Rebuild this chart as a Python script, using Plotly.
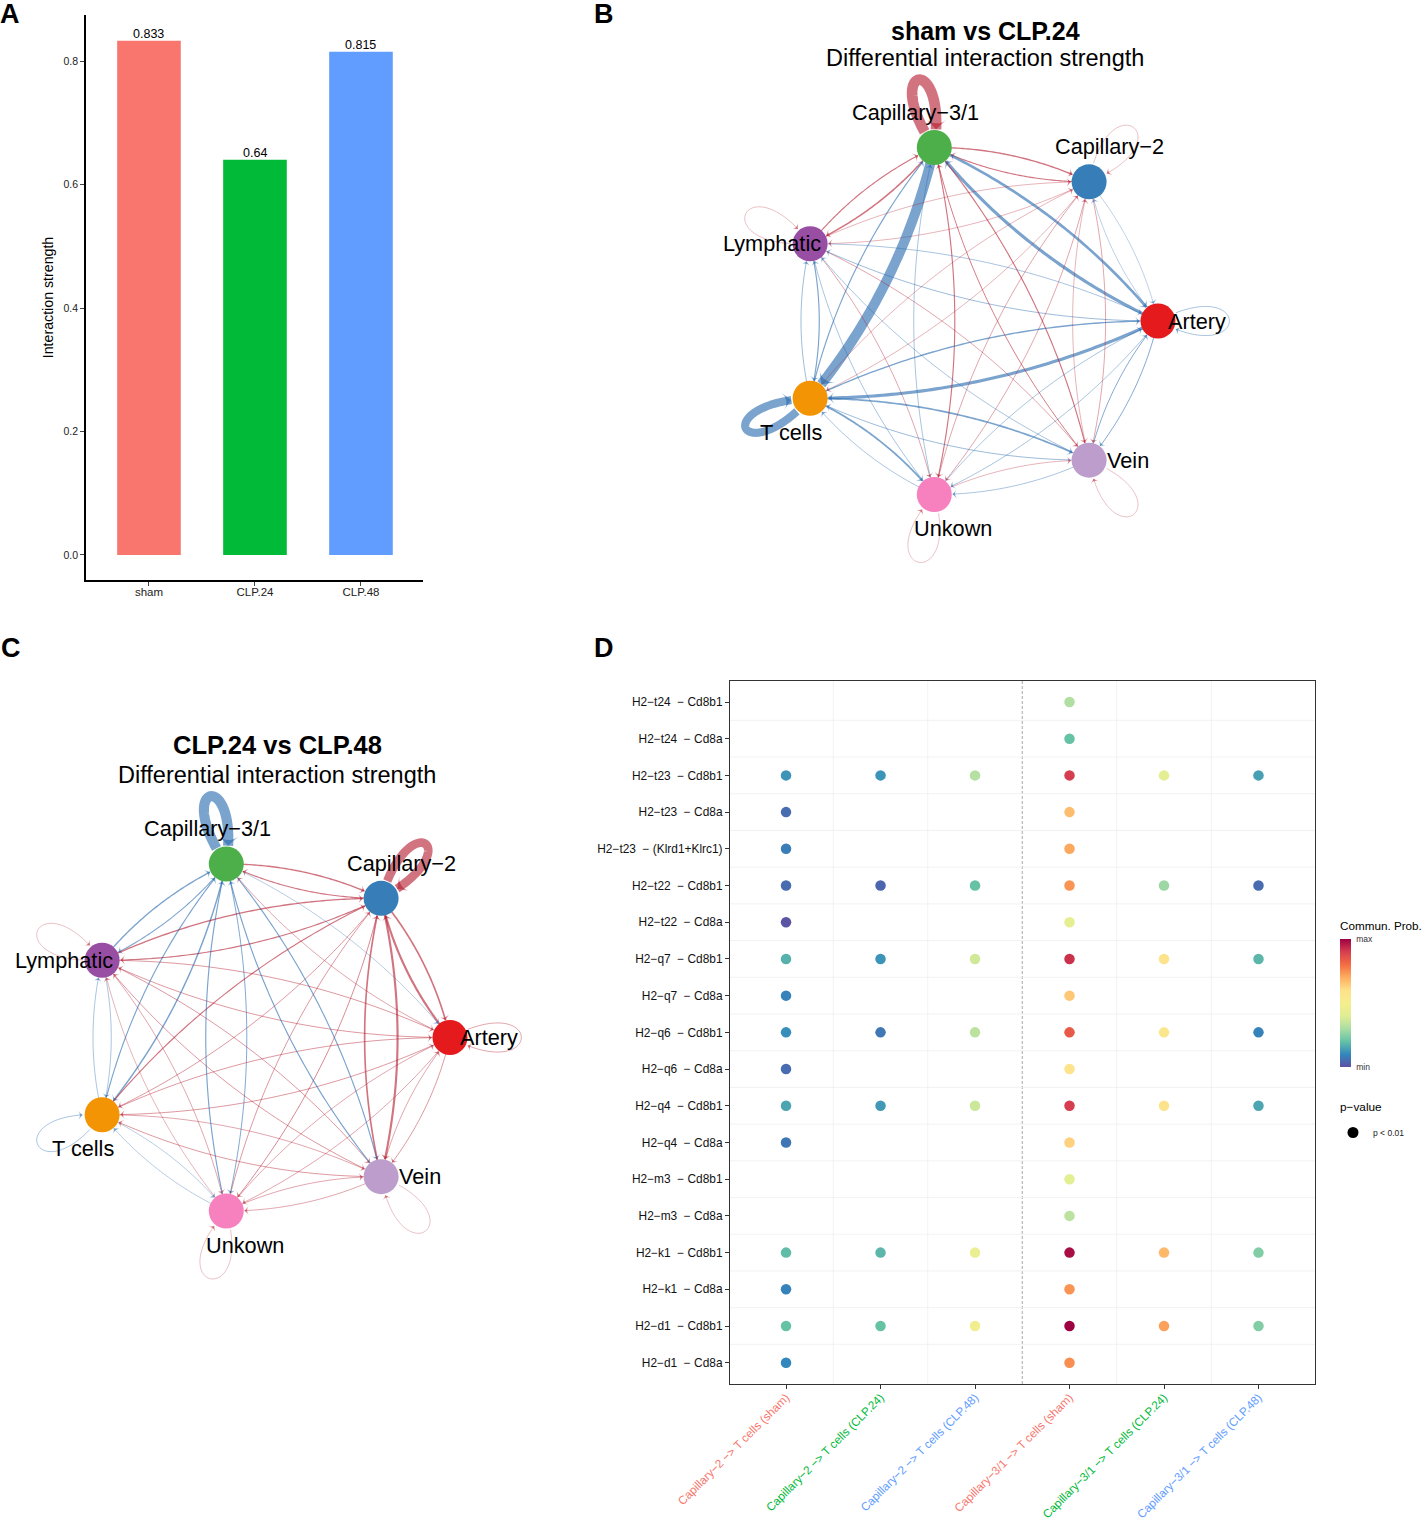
import math
import plotly.graph_objects as go

W, H = 1426, 1526
FONT = "Liberation Sans"

# ---------- Panel A data ----------
conditions = ["sham", "CLP.24", "CLP.48"]
strength = [0.833, 0.64, 0.815]
strength_labels = ["0.833", "0.64", "0.815"]
condition_colors = ["#F8766D", "#00BA38", "#619CFF"]

# ---------- Network data (row = source, col = target; + up / - down) ----------
cells = ["Artery", "Capillary\u22122", "Capillary\u22123/1", "Lymphatic", "T cells", "Unkown", "Vein"]
cell_colors = ["#E41A1C", "#377EB8", "#4DAF4A", "#984EA3", "#F29403", "#F781BF", "#BC9DCC"]

diff_sham_clp24 = [
    [-0.05, -0.035, -0.30, -0.06, -0.30, -0.05, -0.08],
    [-0.035, 0.03, 0.10, 0.04, 0.04, 0.05, 0.05],
    [-0.25, 0.12, 1.05, 0.14, -0.98, 0.10, 0.10],
    [-0.05, 0.04, 0.10, 0.03, -0.10, 0.05, 0.05],
    [-0.12, 0.04, -0.10, -0.06, -0.80, -0.16, -0.15],
    [-0.05, 0.05, -0.05, -0.05, -0.05, 0.03, 0.04],
    [-0.08, 0.04, 0.08, -0.05, -0.06, -0.05, 0.03],
]
diff_clp24_clp48 = [
    [0.05, 0.20, 0.05, 0.06, 0.06, 0.05, 0.06],
    [0.15, 0.85, 0.10, 0.10, 0.06, 0.07, 0.20],
    [-0.04, 0.12, -1.00, -0.09, -0.13, -0.08, -0.10],
    [0.06, 0.12, -0.12, 0.03, -0.05, 0.05, 0.06],
    [0.06, 0.10, -0.10, -0.05, -0.05, -0.04, 0.05],
    [0.05, 0.06, -0.10, 0.04, -0.04, 0.03, 0.05],
    [0.05, 0.15, -0.10, 0.06, 0.06, 0.05, 0.03],
]
title_b = "sham vs CLP.24"
title_c = "CLP.24 vs CLP.48"
subtitle = "Differential interaction strength"

# ---------- Panel D data ----------
ligands = ["H2\u2212t24", "H2\u2212t24", "H2\u2212t23", "H2\u2212t23", "H2\u2212t23", "H2\u2212t22", "H2\u2212t22",
           "H2\u2212q7", "H2\u2212q7", "H2\u2212q6", "H2\u2212q6", "H2\u2212q4", "H2\u2212q4",
           "H2\u2212m3", "H2\u2212m3", "H2\u2212k1", "H2\u2212k1", "H2\u2212d1", "H2\u2212d1"]
receptors = ["Cd8b1", "Cd8a", "Cd8b1", "Cd8a", "(Klrd1+Klrc1)", "Cd8b1", "Cd8a",
             "Cd8b1", "Cd8a", "Cd8b1", "Cd8a", "Cd8b1", "Cd8a",
             "Cd8b1", "Cd8a", "Cd8b1", "Cd8a", "Cd8b1", "Cd8a"]
pairs = ["Capillary\u22122 \u2212> T cells (sham)", "Capillary\u22122 \u2212> T cells (CLP.24)",
         "Capillary\u22122 \u2212> T cells (CLP.48)", "Capillary\u22123/1 \u2212> T cells (sham)",
         "Capillary\u22123/1 \u2212> T cells (CLP.24)", "Capillary\u22123/1 \u2212> T cells (CLP.48)"]
pair_conditions = [0, 1, 2, 0, 1, 2]
prob_c2_sham  = [None, None, .12, .05, .08, .05, .01, .17, .09, .11, .05, .15, .07, None, None, .19, .09, .20, .10]
prob_c2_24    = [None, None, .12, None, None, .04, None, .12, None, .07, None, .13, None, None, None, .18, None, .20, None]
prob_c2_48    = [None, None, .32, None, None, .20, None, .37, None, .33, None, .36, None, None, None, .45, None, .48, None]
prob_c31_sham = [.31, .20, .90, .67, .71, .74, .43, .92, .65, .84, .58, .90, .63, .42, .33, .98, .74, 1.0, .75]
prob_c31_24   = [None, None, .42, None, None, .28, None, .58, None, .55, None, .58, None, None, None, .68, None, .72, None]
prob_c31_48   = [None, None, .14, None, None, .05, None, .18, None, .09, None, .15, None, None, None, .24, None, .24, None]
prob_columns = [prob_c2_sham, prob_c2_24, prob_c2_48, prob_c31_sham, prob_c31_24, prob_c31_48]

# ---------- Helpers ----------
def xdom(a, b):
    return [a / W, b / W]

def ydom(top, bottom):
    return [1 - bottom / H, 1 - top / H]

RED = "178,24,43"
BLUE = "33,102,172"
NODE_R = 0.097
CURVE = 0.115
LOOP_LONG = 0.52
LABEL_OFFS = [(39, 0), (20, 35), (-19, 35), (-38, 0), (-19, -34), (19, -34), (39, 0)]
SPECTRAL = [[0, "#5E4FA2"], [.1, "#3288BD"], [.2, "#66C2A5"], [.3, "#ABDDA4"], [.4, "#E0EE93"], [.5, "#F5EE8F"],
            [.6, "#FEE08B"], [.7, "#FDAE61"], [.8, "#F46D43"], [.9, "#D53E4F"], [1, "#9E0142"]]

def node_xy():
    n = len(cells)
    return [(math.cos(2 * math.pi * k / n), math.sin(2 * math.pi * k / n)) for k in range(n)]

def trim_end(pts, target):
    out = [p for p in pts if math.hypot(p[0] - target[0], p[1] - target[1]) > NODE_R]
    return out

def edge_path(a, b):
    dx, dy = b[0] - a[0], b[1] - a[1]
    cx = (a[0] + b[0]) / 2 - dy * CURVE
    cy = (a[1] + b[1]) / 2 + dx * CURVE
    pts = []
    for i in range(81):
        t = i / 80
        pts.append(((1 - t) ** 2 * a[0] + 2 * t * (1 - t) * cx + t * t * b[0],
                    (1 - t) ** 2 * a[1] + 2 * t * (1 - t) * cy + t * t * b[1]))
    return trim_end(pts, b)

def loop_path(a, lw):
    ang = math.atan2(a[1], a[0])
    side = (30 - 0.9 * lw) / 0.577 / 180
    ux, uy = math.cos(ang), math.sin(ang)
    p1 = (a[0] + LOOP_LONG * ux - side * uy, a[1] + LOOP_LONG * uy + side * ux)
    p2 = (a[0] + LOOP_LONG * ux + side * uy, a[1] + LOOP_LONG * uy - side * ux)
    pts = []
    for i in range(121):
        t = i / 120
        u = 1 - t
        pts.append((u ** 3 * a[0] + 3 * u * u * t * p1[0] + 3 * u * t * t * p2[0] + t ** 3 * a[0],
                    u ** 3 * a[1] + 3 * u * u * t * p1[1] + 3 * u * t * t * p2[1] + t ** 3 * a[1]))
    return trim_end(pts, a)

fig = go.Figure()

# ---------- Panel A ----------
fig.add_trace(go.Bar(x=conditions, y=strength, width=0.6, marker=dict(color=condition_colors, line=dict(width=0)),
                     showlegend=False, xaxis="x", yaxis="y"))
for cat, val, lab in zip(conditions, strength, strength_labels):
    fig.add_annotation(x=cat, y=val, xref="x", yref="y", text=lab, showarrow=False, yanchor="middle", yshift=7,
                       font=dict(size=12.5, color="black", family=FONT))

# ---------- Networks ----------
def add_network(matrix, xa, ya):
    xy = node_xy()
    for i in range(len(cells)):
        for j in range(len(cells)):
            w = matrix[i][j]
            rgb = RED if w > 0 else BLUE
            lw = abs(w) * 10 + 0.15
            pts = loop_path(xy[i], lw) if i == j else edge_path(xy[i], xy[j])
            size = 5.5 + 0.85 * lw
            fig.add_trace(go.Scatter(
                x=[p[0] for p in pts], y=[p[1] for p in pts], mode="lines",
                line=dict(color=f"rgba({rgb},0.6)", width=lw, simplify=False),
                hoverinfo="skip", showlegend=False, xaxis=xa, yaxis=ya))
            fig.add_trace(go.Scatter(
                x=[p[0] for p in pts[-2:]], y=[p[1] for p in pts[-2:]], mode="markers",
                marker=dict(symbol="arrow-wide", angleref="previous", color=f"rgba({rgb},0.8)",
                            size=[0, size], line=dict(width=0)),
                hoverinfo="skip", showlegend=False, xaxis=xa, yaxis=ya))
    fig.add_trace(go.Scatter(
        x=[p[0] for p in xy], y=[p[1] for p in xy], mode="markers",
        marker=dict(size=35, color=cell_colors, line=dict(width=0)),
        text=cells, hoverinfo="text", showlegend=False, xaxis=xa, yaxis=ya))
    for k, (px, py) in enumerate(xy):
        fig.add_annotation(x=px, y=py, xref=xa, yref=ya, text=cells[k], showarrow=False,
                           xshift=LABEL_OFFS[k][0], yshift=LABEL_OFFS[k][1],
                           font=dict(size=21.7, color="black", family=FONT))

add_network(diff_sham_clp24, "x2", "y2")
add_network(diff_clp24_clp48, "x3", "y3")

# ---------- Panel D ----------
dx, dy, dv = [], [], []
for c, col in enumerate(prob_columns):
    for r, v in enumerate(col):
        if v is not None:
            dx.append(c)
            dy.append(r)
            dv.append(v)
fig.add_trace(go.Scatter(x=dx, y=dy, mode="markers",
                         marker=dict(size=10.5, color=dv, coloraxis="coloraxis", line=dict(width=0)),
                         showlegend=False, xaxis="x4", yaxis="y4"))
fig.add_trace(go.Scatter(x=[None], y=[None], mode="markers", name="p < 0.01",
                         marker=dict(size=11, color="black"), showlegend=True, xaxis="x4", yaxis="y4"))

row_labels = [f"{l} \u00a0\u2212 {r}" for l, r in zip(ligands, receptors)]
col_labels = [f'<span style="color:{condition_colors[pair_conditions[i]]}">{p}</span>' for i, p in enumerate(pairs)]

shapes = []
for c in range(len(pairs) - 1):
    mid = c + 0.5
    if c == 2:
        shapes.append(dict(type="line", xref="x4", yref="y4 domain", x0=mid, x1=mid, y0=0, y1=1,
                           line=dict(color="#A8A8A8", width=1, dash="3px,2px"), layer="below"))
    else:
        shapes.append(dict(type="line", xref="x4", yref="y4 domain", x0=mid, x1=mid, y0=0, y1=1,
                           line=dict(color="#EFEFEF", width=0.8), layer="below"))
for r in range(len(row_labels) - 1):
    mid = r + 0.5
    shapes.append(dict(type="line", xref="x4 domain", yref="y4", x0=0, x1=1, y0=mid, y1=mid,
                       line=dict(color="#EFEFEF", width=0.8), layer="below"))

hidden = dict(visible=False, showgrid=False, zeroline=False, fixedrange=True)

def net_x(a, b, cx, rx):
    return dict(hidden, domain=xdom(a, b), range=[(a - cx) / rx, (b - cx) / rx])

def net_y(top, bottom, cy, ry):
    return dict(hidden, domain=ydom(top, bottom), range=[(cy - bottom) / ry, (cy - top) / ry])

annotations = [
    dict(text="A", x=10, y=14, size=27, bold=True),
    dict(text="B", x=604, y=14, size=27, bold=True),
    dict(text="C", x=11, y=648, size=27, bold=True),
    dict(text="D", x=604, y=648, size=27, bold=True),
    dict(text=title_b, x=985, y=30.5, size=25, bold=True),
    dict(text=subtitle, x=984.5, y=58, size=23.5, bold=False),
    dict(text=title_c, x=277, y=744.5, size=25.5, bold=True),
    dict(text=subtitle, x=276.5, y=775, size=23.5, bold=False),
]
for a in annotations:
    t = f"<b>{a['text']}</b>" if a["bold"] else a["text"]
    fig.add_annotation(x=a["x"] / W, y=1 - a["y"] / H, xref="paper", yref="paper", text=t, showarrow=False,
                       xanchor="center", yanchor="middle", font=dict(size=a["size"], color="black", family=FONT))
fig.add_annotation(x=1340 / W, y=1 - 926 / H, xref="paper", yref="paper", text="Commun. Prob.", showarrow=False,
                   xanchor="left", yanchor="middle", xshift=-2, font=dict(size=11.7, color="black", family=FONT))
fig.add_annotation(x=1340 / W, y=1 - 1107 / H, xref="paper", yref="paper", text="p\u2212value", showarrow=False,
                   xanchor="left", yanchor="middle", xshift=-2, font=dict(size=11.8, color="black", family=FONT))

fig.update_layout(
    width=W, height=H, autosize=False, margin=dict(l=0, r=0, t=0, b=0, autoexpand=False),
    paper_bgcolor="white", plot_bgcolor="white",
    font=dict(family=FONT, color="black"),
    hovermode="closest", shapes=shapes,
    xaxis=dict(domain=xdom(86, 423), range=[-0.594, 2.585], type="category", showgrid=False, zeroline=False,
               showline=True, linecolor="black", linewidth=1.5, ticks="outside", ticklen=4, tickwidth=1,
               ticklabelstandoff=-4, tickfont=dict(size=11.5, color="#222"), anchor="y"),
    yaxis=dict(domain=ydom(15, 580), range=[-0.0405, 0.8745], showgrid=False, zeroline=False,
               showline=True, linecolor="black", linewidth=1.5, ticks="outside", ticklen=4, tickwidth=1,
               tickvals=[0, 0.2, 0.4, 0.6, 0.8], ticktext=["0.0", "0.2", "0.4", "0.6", "0.8"],
               tickfont=dict(size=10.5, color="#222"),
               title=dict(text="Interaction strength", font=dict(size=14.2, color="black"), standoff=7),
               anchor="x"),
    xaxis2=net_x(690, 1240, 975, 183), yaxis2=net_y(60, 585, 321, 178),
    xaxis3=net_x(3, 530, 267, 183), yaxis3=net_y(785, 1295, 1037.5, 178),
    xaxis4=dict(domain=xdom(730, 1315), range=[-0.593, 5.598], showgrid=False, zeroline=False,
                showline=True, mirror=True, linecolor="#333", linewidth=1.2, ticks="outside", ticklen=4,
                tickcolor="#333", tickvals=list(range(len(pairs))), ticktext=col_labels, tickangle=-45,
                ticklabelstandoff=-3, tickfont=dict(size=11.7), anchor="y4"),
    yaxis4=dict(domain=ydom(681, 1384), range=[18.58, -0.572], showgrid=False, zeroline=False,
                showline=True, mirror=True, linecolor="#333", linewidth=1.2, ticks="outside", ticklen=4,
                tickcolor="#333", tickvals=list(range(len(row_labels))), ticktext=row_labels,
                tickfont=dict(size=11.9, color="#111"), anchor="x4"),
    coloraxis=dict(colorscale=SPECTRAL, cmin=0, cmax=1,
                   colorbar=dict(x=1340 / W, xanchor="left", xref="paper", y=1 - 939 / H, yanchor="top", yref="paper",
                                 lenmode="pixels", len=128, thicknessmode="pixels", thickness=11,
                                 outlinewidth=0, xpad=0, ypad=0, ticks="outside", ticklen=4,
                                 tickcolor="rgba(0,0,0,0)", tickvals=[0, 1],
                                 ticktext=["min", "max"], tickfont=dict(size=8.5, color="#333"))),
    legend=dict(x=1333 / W, xanchor="left", y=1 - 1118 / H, yanchor="top", bgcolor="rgba(0,0,0,0)",
                font=dict(size=8.5, color="#222")),
)

fig.write_html("out.html", config=dict(displayModeBar=False),
               post_script="document.body.style.margin='0';")
